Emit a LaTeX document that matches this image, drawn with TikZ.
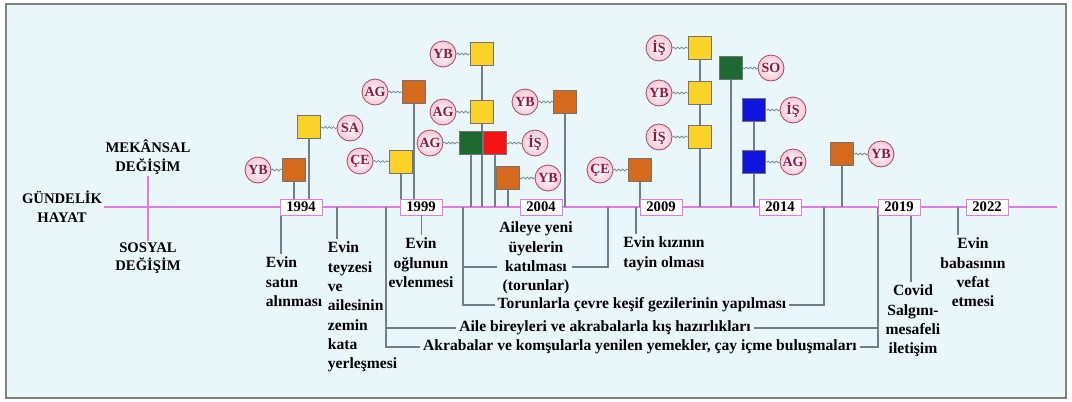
\documentclass[tikz,border=0pt]{standalone}
\usepackage{fontspec}
\setmainfont{Liberation Serif}
\usetikzlibrary{positioning,decorations.pathmorphing}
\definecolor{zemin}{RGB}{233,246,250}
\definecolor{cerceve}{RGB}{128,128,128}
\definecolor{eksen}{RGB}{228,120,228}
\definecolor{sapi}{RGB}{112,126,136}
\definecolor{turuncu}{RGB}{214,106,28}
\definecolor{sari}{RGB}{250,210,40}
\definecolor{yesil}{RGB}{30,105,50}
\definecolor{kirmizi}{RGB}{245,20,20}
\definecolor{mavi}{RGB}{15,20,225}
\definecolor{pembe}{RGB}{246,200,214}
\definecolor{bordo}{RGB}{140,25,65}
\begin{document}
\begin{tikzpicture}[x=0.75pt, y=-0.75pt,
	kare/.style={draw=black!55, line width=0.6pt, minimum size=17.5pt, inner sep=0pt},
	etiket/.style={circle, draw=bordo!80, line width=0.6pt, inner color=white, outer color=pembe, minimum size=19.5pt, inner sep=0pt, text=bordo, font=\bfseries\fontsize{10.5}{10.5}\selectfont},
	dalga/.style={draw=sapi, line width=0.5pt, decorate, decoration={snake, amplitude=0.7pt, segment length=3pt}},
	sap/.style={draw=sapi, line width=1.5pt},
	altsap/.style={draw=sapi, line width=1pt},
	yil/.style={draw=eksen, fill=white, line width=0.7pt, minimum width=31.5pt, minimum height=12pt, inner sep=0pt, font=\bfseries\fontsize{11}{11}\selectfont},
	olay/.style={font=\bfseries\fontsize{11.7}{14.5}\selectfont, inner sep=2pt},
	baslik/.style={font=\bfseries\fontsize{11}{14}\selectfont, align=center, inner sep=1pt}]
	\useasboundingbox (0,0) rectangle (1072,401);
	\draw[draw=cerceve, fill=zemin, line width=1.8pt] (6,4) rectangle (1066,398);
	
	% eksenler
	\coordinate (eks) at (0,207);
	\coordinate (son) at (1057,207);
	\node[baslik] (gunluk) at (62,207) {GÜNDELİK\\HAYAT};
	\node[baslik] (mekan) at (148,157) {MEKÂNSAL\\DEĞİŞİM};
	\node[baslik] (sosyal) at (148,258) {SOSYAL\\DEĞİŞİM};
	\draw[eksen, line width=1pt] (gunluk) -- (son);
	\draw[eksen, line width=1pt] (mekan) -- (sosyal);
	
	% mekansal degisim
	\node[kare, fill=turuncu] (o1) at (294,170) {};
	\node[kare, fill=sari] (y1) at (309,127) {};
	\node[kare, fill=sari] (y2) at (401,162) {};
	\node[kare, fill=turuncu] (o2) at (414,92) {};
	\foreach \k in {o1,y1,y2,o2}
		\draw[sap] (\k.south) -- (\k |- eks);
	\node[kare, fill=sari] (y3) at (482,54) {};
	\node[kare, fill=sari] (y4) at (482,112) {};
	\draw[sap] (y3.south) -- (y4.north);
	\draw[sap] (y4.south) -- (y4 |- eks);
	\node[kare, fill=yesil] (g1) at (471,143) {};
	\node[kare, fill=kirmizi] (r1) at (495,143) {};
	\node[kare, fill=turuncu] (o3) at (508,178) {};
	\node[kare, fill=turuncu] (o4) at (565,102) {};
	\node[kare, fill=turuncu] (o5) at (640,170) {};
	\foreach \k in {g1,r1,o3,o4,o5}
		\draw[sap] (\k.south) -- (\k |- eks);
	\node[kare, fill=sari] (y5) at (700,48) {};
	\node[kare, fill=sari] (y6) at (700,93) {};
	\node[kare, fill=sari] (y7) at (700,137) {};
	\draw[sap] (y5) -- (y6);
	\draw[sap] (y6) -- (y7);
	\draw[sap] (y7.south) -- (y7 |- eks);
	\node[kare, fill=yesil] (g2) at (731,68) {};
	\node[kare, fill=mavi] (m1) at (754,110) {};
	\node[kare, fill=mavi] (m2) at (754,162) {};
	\draw[sap] (m1) -- (m2);
	\node[kare, fill=turuncu] (o6) at (842,154) {};
	\foreach \k in {g2,m2,o6}
		\draw[sap] (\k.south) -- (\k |- eks);
	
	\node[etiket] (c1) at (258,170) {YB};
	\node[etiket] (c2) at (350,128) {SA};
	\node[etiket] (c3) at (360,161) {ÇE};
	\node[etiket] (c4) at (375,92) {AG};
	\node[etiket] (c5) at (443,54) {YB};
	\node[etiket] (c6) at (443,112) {AG};
	\node[etiket] (c7) at (430,143) {AG};
	\node[etiket] (c8) at (535,143) {İŞ};
	\node[etiket] (c9) at (548,178) {YB};
	\node[etiket] (c10) at (525,102) {YB};
	\node[etiket] (c11) at (600,170) {ÇE};
	\node[etiket] (c12) at (659,48) {İŞ};
	\node[etiket] (c13) at (659,93) {YB};
	\node[etiket] (c14) at (659,137) {İŞ};
	\node[etiket] (c15) at (771,68) {SO};
	\node[etiket] (c16) at (793,110) {İŞ};
	\node[etiket] (c17) at (793,162) {AG};
	\node[etiket] (c18) at (881,154) {YB};
	\foreach \c/\k in {c1/o1,c2/y1,c3/y2,c4/o2,c5/y3,c6/y4,c7/g1,c8/r1,c9/o3,c10/o4,c11/o5,c12/y5,c13/y6,c14/y7,c15/g2,c16/m1,c17/m2,c18/o6}
		\draw[dalga] (\c) -- (\k);
	
	% sosyal degisim
	\node[olay, anchor=north west, align=left] (satin) at (263,254) {Evin\\satın\\alınması};
	\node[olay, anchor=north west, align=left] (teyze) at (325,239) {Evin\\teyzesi\\ve\\ailesinin\\zemin\\kata\\yerleşmesi};
	\node[olay, anchor=north, align=center] (ogul) at (421,235) {Evin\\oğlunun\\evlenmesi};
	\node[olay, anchor=north, align=center] (torun) at (536,219) {Aileye yeni\\üyelerin\\katılması\\(torunlar)};
	\node[olay, anchor=north, align=center] (kiz) at (664,234) {Evin kızının\\tayin olması};
	\node[olay, anchor=north, align=center] (covid) at (913,282) {Covid\\Salgını-\\mesafeli\\iletişim};
	\node[olay, anchor=north, align=center] (baba) at (973,235) {Evin\\babasının\\vefat\\etmesi};
	\node[olay] (gezi) at (642,305) {Torunlarla çevre keşif gezilerinin yapılması};
	\node[olay] (kis) at (605,328) {Aile bireyleri ve akrabalarla kış hazırlıkları};
	\node[olay] (yemek) at (640,347) {Akrabalar ve komşularla yenilen yemekler, çay içme buluşmaları};
	
	\coordinate (s1) at (281,207);
	\coordinate (s2) at (337,207);
	\coordinate (s3) at (636,207);
	\coordinate (s4) at (911,207);
	\coordinate (s5) at (958,207);
	\coordinate (L1) at (386,207);
	\coordinate (R1) at (878,207);
	\coordinate (L2) at (463,207);
	\coordinate (R2) at (824,207);
	\coordinate (R3) at (608,207);
	\coordinate (kL) at (497,267);
	\coordinate (kR) at (572,267);
	\draw[altsap] (s1) -- (s1 |- satin.north);
	\draw[altsap] (s2) -- (s2 |- teyze.north);
	\draw[altsap] (s3) -- (s3 |- kiz.north);
	\draw[altsap] (s4) -- (s4 |- covid.north);
	\draw[altsap] (s5) -- (s5 |- baba.north);
	\draw[altsap] (L1) |- (yemek.west);
	\draw[altsap] (L1) |- (kis.west);
	\draw[altsap] (R1) |- (yemek.east);
	\draw[altsap] (R1) |- (kis.east);
	\draw[altsap] (L2) |- (gezi.west);
	\draw[altsap] (R2) |- (gezi.east);
	\draw[altsap] (L2) |- (kL);
	\draw[altsap] (R3) |- (kR);
	
	% yillar
	\foreach \yil/\x in {1994/301,1999/421,2004/541,2009/661,2014/780,2019/899,2022/987}
		\node[yil] (y\yil) at (\x,207) {\yil};
	\draw[altsap, line width=0.6pt] (y1999) -- (ogul);
\end{tikzpicture}
\end{document}
